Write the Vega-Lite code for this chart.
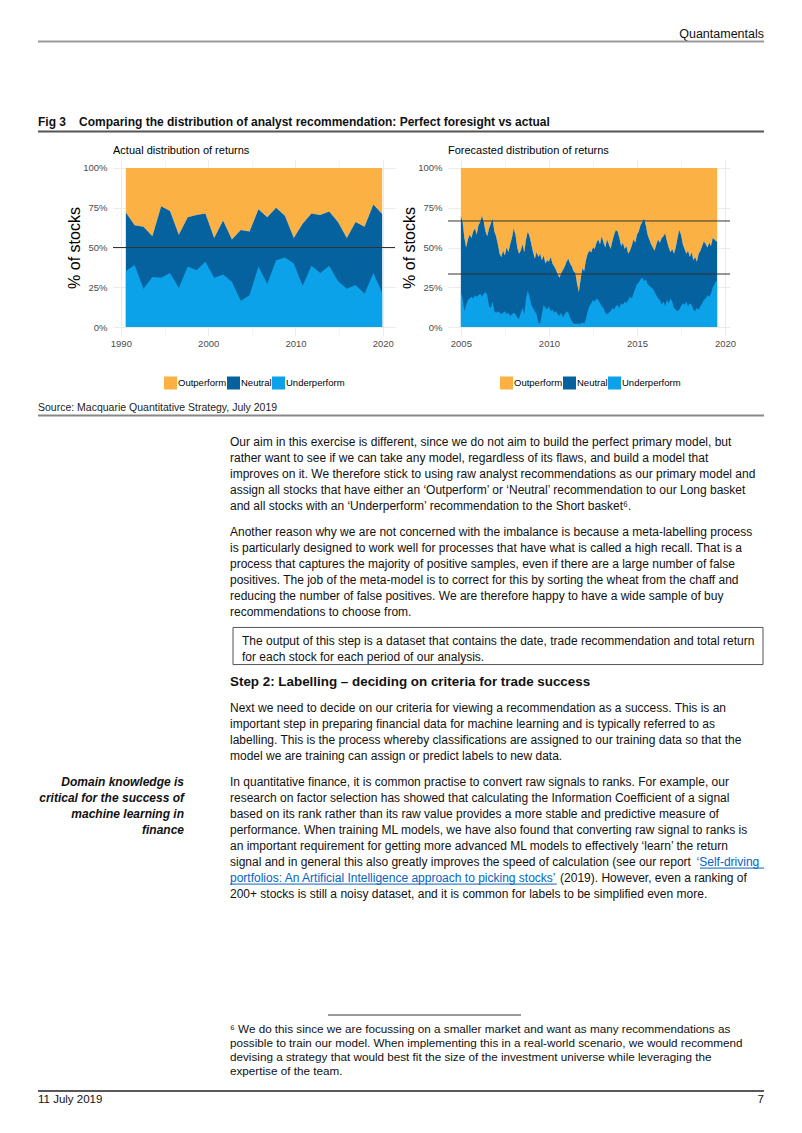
{
  "$schema": "https://vega.github.io/schema/vega-lite/v6.json",
  "padding": {"left": 37, "right": 39, "top": 0, "bottom": 0},
  "background": "white",
  "spacing": 0,
  "config": {
    "view": {"stroke": null},
    "font": "Liberation Sans",
    "text": {"font": "Liberation Sans"},
    "title": {"font": "Liberation Sans"},
    "axis": {"labelFont": "Liberation Sans", "titleFont": "Liberation Sans"},
    "legend": {"labelFont": "Liberation Sans"}
  },
  "datasets": {
    "top": [
      {"item": "header", "text": "Quantamentals"},
      {"item": "fignum", "text": "Fig 3"},
      {"item": "figtitle", "text": "Comparing the distribution of analyst recommendation: Perfect foresight vs actual"}
    ],
    "actual": [
      {"t": 1990.57, "n": 0.72, "u": 0.35}, {"t": 1991.58, "n": 0.64, "u": 0.39}, {"t": 1992.59, "n": 0.63, "u": 0.24},
      {"t": 1993.61, "n": 0.57, "u": 0.315}, {"t": 1994.62, "n": 0.76, "u": 0.31}, {"t": 1995.63, "n": 0.73, "u": 0.34},
      {"t": 1996.64, "n": 0.58, "u": 0.245}, {"t": 1997.66, "n": 0.69, "u": 0.38}, {"t": 1998.67, "n": 0.705, "u": 0.357},
      {"t": 1999.68, "n": 0.714, "u": 0.41}, {"t": 2000.69, "n": 0.56, "u": 0.31}, {"t": 2001.71, "n": 0.67, "u": 0.33},
      {"t": 2002.72, "n": 0.55, "u": 0.285}, {"t": 2003.73, "n": 0.61, "u": 0.165}, {"t": 2004.74, "n": 0.60, "u": 0.20},
      {"t": 2005.76, "n": 0.74, "u": 0.38}, {"t": 2006.77, "n": 0.69, "u": 0.27}, {"t": 2007.78, "n": 0.75, "u": 0.42},
      {"t": 2008.79, "n": 0.70, "u": 0.437}, {"t": 2009.81, "n": 0.56, "u": 0.40}, {"t": 2010.82, "n": 0.65, "u": 0.26},
      {"t": 2011.83, "n": 0.714, "u": 0.385}, {"t": 2012.84, "n": 0.705, "u": 0.34}, {"t": 2013.86, "n": 0.727, "u": 0.385},
      {"t": 2014.87, "n": 0.66, "u": 0.29}, {"t": 2015.88, "n": 0.56, "u": 0.24}, {"t": 2016.89, "n": 0.66, "u": 0.265},
      {"t": 2017.91, "n": 0.63, "u": 0.21}, {"t": 2018.92, "n": 0.77, "u": 0.34}, {"t": 2019.93, "n": 0.71, "u": 0.215}
    ],
    "forecast": [
      {"t": 2005.0, "n": 0.70, "u": 0.22}, {"t": 2005.1, "n": 0.66, "u": 0.18}, {"t": 2005.2, "n": 0.56, "u": 0.10}, {"t": 2005.3, "n": 0.50, "u": 0.14}, {"t": 2005.4, "n": 0.55, "u": 0.17},
      {"t": 2005.5, "n": 0.58, "u": 0.18}, {"t": 2005.6, "n": 0.56, "u": 0.19}, {"t": 2005.7, "n": 0.60, "u": 0.18}, {"t": 2005.8, "n": 0.62, "u": 0.20}, {"t": 2005.9, "n": 0.58, "u": 0.19},
      {"t": 2006.0, "n": 0.64, "u": 0.20}, {"t": 2006.1, "n": 0.66, "u": 0.21}, {"t": 2006.2, "n": 0.70, "u": 0.19}, {"t": 2006.3, "n": 0.66, "u": 0.21}, {"t": 2006.4, "n": 0.60, "u": 0.22},
      {"t": 2006.5, "n": 0.57, "u": 0.20}, {"t": 2006.6, "n": 0.62, "u": 0.13}, {"t": 2006.7, "n": 0.65, "u": 0.12}, {"t": 2006.8, "n": 0.68, "u": 0.16}, {"t": 2006.9, "n": 0.60, "u": 0.10},
      {"t": 2007.0, "n": 0.57, "u": 0.09}, {"t": 2007.1, "n": 0.52, "u": 0.10}, {"t": 2007.2, "n": 0.46, "u": 0.09}, {"t": 2007.3, "n": 0.44, "u": 0.08}, {"t": 2007.4, "n": 0.48, "u": 0.09},
      {"t": 2007.5, "n": 0.45, "u": 0.10}, {"t": 2007.6, "n": 0.50, "u": 0.08}, {"t": 2007.7, "n": 0.47, "u": 0.09}, {"t": 2007.8, "n": 0.52, "u": 0.07}, {"t": 2007.9, "n": 0.56, "u": 0.08},
      {"t": 2008.0, "n": 0.62, "u": 0.09}, {"t": 2008.1, "n": 0.58, "u": 0.08}, {"t": 2008.2, "n": 0.50, "u": 0.06}, {"t": 2008.3, "n": 0.46, "u": 0.05}, {"t": 2008.4, "n": 0.48, "u": 0.09},
      {"t": 2008.5, "n": 0.52, "u": 0.12}, {"t": 2008.6, "n": 0.47, "u": 0.08}, {"t": 2008.7, "n": 0.55, "u": 0.18}, {"t": 2008.8, "n": 0.60, "u": 0.23}, {"t": 2008.9, "n": 0.57, "u": 0.19},
      {"t": 2009.0, "n": 0.52, "u": 0.14}, {"t": 2009.1, "n": 0.47, "u": 0.12}, {"t": 2009.2, "n": 0.43, "u": 0.10}, {"t": 2009.3, "n": 0.47, "u": 0.08}, {"t": 2009.4, "n": 0.44, "u": 0.03},
      {"t": 2009.5, "n": 0.46, "u": 0.02}, {"t": 2009.6, "n": 0.42, "u": 0.08}, {"t": 2009.7, "n": 0.45, "u": 0.14}, {"t": 2009.8, "n": 0.40, "u": 0.12}, {"t": 2009.9, "n": 0.42, "u": 0.11},
      {"t": 2010.0, "n": 0.41, "u": 0.13}, {"t": 2010.1, "n": 0.44, "u": 0.10}, {"t": 2010.2, "n": 0.40, "u": 0.11}, {"t": 2010.3, "n": 0.38, "u": 0.09}, {"t": 2010.4, "n": 0.36, "u": 0.10},
      {"t": 2010.5, "n": 0.33, "u": 0.08}, {"t": 2010.6, "n": 0.31, "u": 0.07}, {"t": 2010.7, "n": 0.34, "u": 0.09}, {"t": 2010.8, "n": 0.36, "u": 0.06}, {"t": 2010.9, "n": 0.38, "u": 0.08},
      {"t": 2011.0, "n": 0.41, "u": 0.10}, {"t": 2011.1, "n": 0.43, "u": 0.09}, {"t": 2011.2, "n": 0.40, "u": 0.06}, {"t": 2011.3, "n": 0.38, "u": 0.04}, {"t": 2011.4, "n": 0.35, "u": 0.02},
      {"t": 2011.5, "n": 0.34, "u": 0.02}, {"t": 2011.6, "n": 0.27, "u": 0.02}, {"t": 2011.7, "n": 0.22, "u": 0.02}, {"t": 2011.8, "n": 0.30, "u": 0.02}, {"t": 2011.9, "n": 0.37, "u": 0.03},
      {"t": 2012.0, "n": 0.35, "u": 0.02}, {"t": 2012.1, "n": 0.42, "u": 0.05}, {"t": 2012.2, "n": 0.46, "u": 0.10}, {"t": 2012.3, "n": 0.48, "u": 0.13}, {"t": 2012.4, "n": 0.47, "u": 0.15},
      {"t": 2012.5, "n": 0.50, "u": 0.17}, {"t": 2012.6, "n": 0.49, "u": 0.16}, {"t": 2012.7, "n": 0.53, "u": 0.18}, {"t": 2012.8, "n": 0.55, "u": 0.17}, {"t": 2012.9, "n": 0.52, "u": 0.15},
      {"t": 2013.0, "n": 0.57, "u": 0.13}, {"t": 2013.1, "n": 0.53, "u": 0.12}, {"t": 2013.2, "n": 0.50, "u": 0.09}, {"t": 2013.3, "n": 0.55, "u": 0.08}, {"t": 2013.4, "n": 0.52, "u": 0.09},
      {"t": 2013.5, "n": 0.49, "u": 0.10}, {"t": 2013.6, "n": 0.54, "u": 0.12}, {"t": 2013.7, "n": 0.58, "u": 0.11}, {"t": 2013.8, "n": 0.61, "u": 0.13}, {"t": 2013.9, "n": 0.60, "u": 0.14},
      {"t": 2014.0, "n": 0.56, "u": 0.12}, {"t": 2014.1, "n": 0.51, "u": 0.15}, {"t": 2014.2, "n": 0.53, "u": 0.14}, {"t": 2014.3, "n": 0.49, "u": 0.16}, {"t": 2014.4, "n": 0.51, "u": 0.15},
      {"t": 2014.5, "n": 0.46, "u": 0.17}, {"t": 2014.6, "n": 0.48, "u": 0.19}, {"t": 2014.7, "n": 0.51, "u": 0.18}, {"t": 2014.8, "n": 0.55, "u": 0.21}, {"t": 2014.9, "n": 0.53, "u": 0.24},
      {"t": 2015.0, "n": 0.58, "u": 0.27}, {"t": 2015.1, "n": 0.60, "u": 0.28}, {"t": 2015.2, "n": 0.64, "u": 0.30}, {"t": 2015.3, "n": 0.66, "u": 0.31}, {"t": 2015.4, "n": 0.68, "u": 0.29},
      {"t": 2015.5, "n": 0.64, "u": 0.30}, {"t": 2015.6, "n": 0.58, "u": 0.27}, {"t": 2015.7, "n": 0.55, "u": 0.26}, {"t": 2015.8, "n": 0.52, "u": 0.25}, {"t": 2015.9, "n": 0.50, "u": 0.24},
      {"t": 2016.0, "n": 0.48, "u": 0.22}, {"t": 2016.1, "n": 0.52, "u": 0.20}, {"t": 2016.2, "n": 0.55, "u": 0.18}, {"t": 2016.3, "n": 0.53, "u": 0.17}, {"t": 2016.4, "n": 0.56, "u": 0.14},
      {"t": 2016.5, "n": 0.57, "u": 0.16}, {"t": 2016.6, "n": 0.59, "u": 0.13}, {"t": 2016.7, "n": 0.54, "u": 0.17}, {"t": 2016.8, "n": 0.50, "u": 0.15}, {"t": 2016.9, "n": 0.47, "u": 0.18},
      {"t": 2017.0, "n": 0.49, "u": 0.16}, {"t": 2017.1, "n": 0.46, "u": 0.12}, {"t": 2017.2, "n": 0.50, "u": 0.11}, {"t": 2017.3, "n": 0.56, "u": 0.10}, {"t": 2017.4, "n": 0.61, "u": 0.11},
      {"t": 2017.5, "n": 0.58, "u": 0.13}, {"t": 2017.6, "n": 0.52, "u": 0.15}, {"t": 2017.7, "n": 0.49, "u": 0.14}, {"t": 2017.8, "n": 0.46, "u": 0.16}, {"t": 2017.9, "n": 0.48, "u": 0.13},
      {"t": 2018.0, "n": 0.44, "u": 0.15}, {"t": 2018.1, "n": 0.47, "u": 0.14}, {"t": 2018.2, "n": 0.42, "u": 0.11}, {"t": 2018.3, "n": 0.44, "u": 0.10}, {"t": 2018.4, "n": 0.41, "u": 0.12},
      {"t": 2018.5, "n": 0.46, "u": 0.11}, {"t": 2018.6, "n": 0.48, "u": 0.13}, {"t": 2018.7, "n": 0.51, "u": 0.15}, {"t": 2018.8, "n": 0.54, "u": 0.17}, {"t": 2018.9, "n": 0.52, "u": 0.18},
      {"t": 2019.0, "n": 0.50, "u": 0.20}, {"t": 2019.1, "n": 0.53, "u": 0.19}, {"t": 2019.2, "n": 0.51, "u": 0.21}, {"t": 2019.3, "n": 0.56, "u": 0.25}, {"t": 2019.4, "n": 0.55, "u": 0.27},
      {"t": 2019.5, "n": 0.54, "u": 0.29}, {"t": 2019.55, "n": 0.54, "u": 0.29}
    ],
    "body": [
      {"block": "source", "line": -2.11, "text": "Source: Macquarie Quantitative Strategy, July 2019"},
      {"block": "p", "line": 0, "text": "Our aim in this exercise is different, since we do not aim to build the perfect primary model, but"},
      {"block": "p", "line": 1, "text": "rather want to see if we can take any model, regardless of its flaws, and build a model that"},
      {"block": "p", "line": 2, "text": "improves on it. We therefore stick to using raw analyst recommendations as our primary model and"},
      {"block": "p", "line": 3, "text": "assign all stocks that have either an ‘Outperform’ or ‘Neutral’ recommendation to our Long basket"},
      {"block": "p", "line": 4, "text": "and all stocks with an ‘Underperform’ recommendation to the Short basket⁶."},
      {"block": "p", "line": 5.62, "text": "Another reason why we are not concerned with the imbalance is because a meta-labelling process"},
      {"block": "p", "line": 6.62, "text": "is particularly designed to work well for processes that have what is called a high recall. That is a"},
      {"block": "p", "line": 7.62, "text": "process that captures the majority of positive samples, even if there are a large number of false"},
      {"block": "p", "line": 8.62, "text": "positives. The job of the meta-model is to correct for this by sorting the wheat from the chaff and"},
      {"block": "p", "line": 9.62, "text": "reducing the number of false positives. We are therefore happy to have a wide sample of buy"},
      {"block": "p", "line": 10.62, "text": "recommendations to choose from."},
      {"block": "box", "line": 12.44, "text": "The output of this step is a dataset that contains the date, trade recommendation and total return"},
      {"block": "box", "line": 13.44, "text": "for each stock for each period of our analysis."},
      {"block": "head", "line": 15.0, "text": "Step 2: Labelling – deciding on criteria for trade success"},
      {"block": "p", "line": 16.63, "text": "Next we need to decide on our criteria for viewing a recommendation as a success. This is an"},
      {"block": "p", "line": 17.63, "text": "important step in preparing financial data for machine learning and is typically referred to as"},
      {"block": "p", "line": 18.63, "text": "labelling.  This is the process whereby classifications are assigned to our training data so that the"},
      {"block": "p", "line": 19.63, "text": "model we are training can assign or predict labels to new data."},
      {"block": "p", "line": 21.25, "text": "In quantitative finance, it is common practise to convert raw signals to ranks. For example, our"},
      {"block": "p", "line": 22.25, "text": "research on factor selection has showed that calculating the Information Coefficient of a signal"},
      {"block": "p", "line": 23.25, "text": "based on its rank rather than its raw value provides a more stable and predictive measure of"},
      {"block": "p", "line": 24.25, "text": "performance. When training ML models, we have also found that converting raw signal to ranks is"},
      {"block": "p", "line": 25.25, "text": "an important requirement for getting more advanced ML models to effectively ‘learn’ the return"},
      {"block": "p", "line": 26.25, "text": "signal and in general this also greatly improves the speed of calculation (see our report"},
      {"block": "link6", "line": 26.25, "text": "‘Self-driving"},
      {"block": "link7", "line": 27.25, "text": "portfolios: An Artificial Intelligence approach to picking stocks’"},
      {"block": "after7", "line": 27.25, "text": "(2019). However, even a ranking of"},
      {"block": "p", "line": 28.25, "text": "200+ stocks is still a noisy dataset, and it is common for labels to be simplified even more."},
      {"block": "side", "line": 21.25, "text": "Domain knowledge is"},
      {"block": "side", "line": 22.25, "text": "critical for the success of"},
      {"block": "side", "line": 23.25, "text": "machine learning in"},
      {"block": "side", "line": 24.25, "text": "finance"},
      {"block": "foot", "line": 36.66, "text": "⁶ We do this since we are focussing on a smaller market and want as many recommendations as"},
      {"block": "foot", "line": 37.54, "text": "possible to train our model. When implementing this in a real-world scenario, we would recommend"},
      {"block": "foot", "line": 38.41, "text": "devising a strategy that would best fit the size of the investment universe while leveraging the"},
      {"block": "foot", "line": 39.29, "text": "expertise of the team."},
      {"block": "date", "line": 41.125, "text": "11 July 2019"},
      {"block": "page", "line": 41.125, "text": "7"}
    ]
  },
  "vconcat": [
    {
      "width": 726,
      "height": 144,
      "data": {"name": "top"},
      "layer": [
        {
          "transform": [{"filter": "datum.item === 'header'"}],
          "mark": {"type": "text", "align": "right", "baseline": "middle", "fontSize": 12.5, "color": "#111"},
          "encoding": {
            "x": {"datum": 726, "type": "quantitative", "scale": {"domain": [0, 726], "nice": false, "zero": false}, "axis": null},
            "y": {"datum": 33.5, "type": "quantitative", "scale": {"domain": [0, 144], "reverse": true, "nice": false, "zero": false}, "axis": null},
            "text": {"field": "text"}
          }
        },
        {
          "transform": [{"filter": "datum.item === 'fignum'"}],
          "mark": {"type": "text", "align": "left", "baseline": "middle", "fontSize": 12, "fontWeight": "bold", "color": "#111"},
          "encoding": {
            "x": {"datum": 0, "type": "quantitative", "axis": null},
            "y": {"datum": 122, "type": "quantitative", "axis": null},
            "text": {"field": "text"}
          }
        },
        {
          "transform": [{"filter": "datum.item === 'figtitle'"}],
          "mark": {"type": "text", "align": "left", "baseline": "middle", "fontSize": 12, "fontWeight": "bold", "color": "#111"},
          "encoding": {
            "x": {"datum": 41, "type": "quantitative", "axis": null},
            "y": {"datum": 122, "type": "quantitative", "axis": null},
            "text": {"field": "text"}
          }
        },
        {
          "data": {"values": [{}]},
          "mark": {"type": "rule", "color": "#999999", "strokeWidth": 2},
          "encoding": {"y": {"datum": 41.5, "type": "quantitative", "axis": null}}
        },
        {
          "data": {"values": [{}]},
          "mark": {"type": "rule", "color": "#555555", "strokeWidth": 2},
          "encoding": {"y": {"datum": 131.5, "type": "quantitative", "axis": null}}
        }
      ]
    },
    {
      "spacing": 5,
      "resolve": {"scale": {"color": "independent"}, "legend": {"color": "independent"}},
      "hconcat": [
        {
          "width": 23,
          "height": 10,
          "data": {"values": [{}]},
          "mark": {"type": "text"},
          "encoding": {"text": {"value": ""}}
        },
        {
          "width": 282,
          "height": 175,
          "title": {"text": "Actual distribution of returns", "anchor": "start", "frame": "group", "fontSize": 11, "fontWeight": "normal", "color": "#000", "offset": -6.5, "baseline": "bottom"},
          "data": {"name": "actual"},
          "layer": [
            {
              "mark": {"type": "area", "opacity": 1},
              "encoding": {
                "x": {"field": "t", "type": "quantitative", "scale": {"domain": [1989.1, 2021.4], "nice": false, "zero": false},
                  "axis": {"values": [1990, 1995, 2000, 2005, 2010, 2015, 2020], "format": "d", "labelExpr": "datum.value % 10 === 0 ? datum.label : ''", "grid": true, "gridColor": "#EBEBEB", "gridWidth": {"condition": {"test": "datum.value % 10 !== 0", "value": 0.5}, "value": 1}, "domain": false, "ticks": false, "labelFontSize": 9.5, "labelColor": "#4D4D4D", "labelPadding": 3.5, "title": null}},
                "y": {"field": "n", "type": "quantitative", "scale": {"domain": [-0.05, 1.05], "nice": false, "zero": false},
                  "axis": {"values": [0, 0.125, 0.25, 0.375, 0.5, 0.625, 0.75, 0.875, 1], "format": ".0%", "labelExpr": "(datum.value * 4) % 1 === 0 ? datum.label : ''", "grid": true, "gridColor": "#EBEBEB", "gridWidth": {"condition": {"test": "(datum.value * 4) % 1 !== 0", "value": 0.5}, "value": 1}, "domain": false, "ticks": false, "labelFontSize": 9.5, "labelColor": "#4D4D4D", "labelPadding": 6, "title": "% of stocks", "titleFontSize": 16, "titleFontWeight": "normal", "titleColor": "#000", "titlePadding": 0}},
                "y2": {"datum": 1},
                "color": {"datum": "Outperform", "type": "nominal",
                  "scale": {"domain": ["Outperform", "Neutral", "Underperform"], "range": ["#FBB143", "#05629F", "#0BA2EA"]},
                  "legend": {"orient": "none", "legendX": 51, "legendY": 216.5, "direction": "horizontal", "title": null, "symbolType": "square", "symbolSize": 169, "symbolStrokeWidth": 0, "symbolOpacity": 1, "labelFontSize": 9.5, "labelColor": "#000", "labelOffset": 1, "columnPadding": 0, "padding": 0}}
              }
            },
            {
              "mark": {"type": "area", "opacity": 1},
              "encoding": {
                "x": {"field": "t", "type": "quantitative"},
                "y": {"field": "n", "type": "quantitative"},
                "y2": {"datum": 0},
                "color": {"datum": "Neutral", "type": "nominal"}
              }
            },
            {
              "mark": {"type": "area", "opacity": 1},
              "encoding": {
                "x": {"field": "t", "type": "quantitative"},
                "y": {"field": "u", "type": "quantitative"},
                "y2": {"datum": 0},
                "color": {"datum": "Underperform", "type": "nominal"}
              }
            },
            {
              "data": {"values": [{}]},
              "mark": {"type": "rule", "color": "#333333", "strokeWidth": 1},
              "encoding": {"y": {"datum": 0.5, "type": "quantitative"}}
            }
          ]
        },
        {
          "width": 282,
          "height": 175,
          "title": {"text": "Forecasted distribution of returns", "anchor": "start", "frame": "group", "fontSize": 11, "fontWeight": "normal", "color": "#000", "offset": -6.5, "baseline": "bottom"},
          "data": {"name": "forecast"},
          "layer": [
            {
              "mark": {"type": "area", "opacity": 1},
              "encoding": {
                "x": {"field": "t", "type": "quantitative", "scale": {"domain": [2004.27, 2020.28], "nice": false, "zero": false},
                  "axis": {"values": [2005, 2007.5, 2010, 2012.5, 2015, 2017.5, 2020], "format": "d", "labelExpr": "datum.value % 5 === 0 ? datum.label : ''", "grid": true, "gridColor": "#EBEBEB", "gridWidth": {"condition": {"test": "datum.value % 5 !== 0", "value": 0.5}, "value": 1}, "domain": false, "ticks": false, "labelFontSize": 9.5, "labelColor": "#4D4D4D", "labelPadding": 3.5, "title": null}},
                "y": {"field": "n", "type": "quantitative", "scale": {"domain": [-0.05, 1.05], "nice": false, "zero": false},
                  "axis": {"values": [0, 0.125, 0.25, 0.375, 0.5, 0.625, 0.75, 0.875, 1], "format": ".0%", "labelExpr": "(datum.value * 4) % 1 === 0 ? datum.label : ''", "grid": true, "gridColor": "#EBEBEB", "gridWidth": {"condition": {"test": "(datum.value * 4) % 1 !== 0", "value": 0.5}, "value": 1}, "domain": false, "ticks": false, "labelFontSize": 9.5, "labelColor": "#4D4D4D", "labelPadding": 6, "title": "% of stocks", "titleFontSize": 16, "titleFontWeight": "normal", "titleColor": "#000", "titlePadding": 0}},
                "y2": {"datum": 1},
                "color": {"datum": "Outperform", "type": "nominal",
                  "scale": {"domain": ["Outperform", "Neutral", "Underperform"], "range": ["#FBB143", "#05629F", "#0BA2EA"]},
                  "legend": {"orient": "none", "legendX": 52, "legendY": 216.5, "direction": "horizontal", "title": null, "symbolType": "square", "symbolSize": 169, "symbolStrokeWidth": 0, "symbolOpacity": 1, "labelFontSize": 9.5, "labelColor": "#000", "labelOffset": 1, "columnPadding": 0, "padding": 0}}
              }
            },
            {
              "mark": {"type": "area", "opacity": 1},
              "encoding": {
                "x": {"field": "t", "type": "quantitative"},
                "y": {"field": "n", "type": "quantitative"},
                "y2": {"datum": 0},
                "color": {"datum": "Neutral", "type": "nominal"}
              }
            },
            {
              "mark": {"type": "area", "opacity": 1},
              "encoding": {
                "x": {"field": "t", "type": "quantitative"},
                "y": {"field": "u", "type": "quantitative"},
                "y2": {"datum": 0},
                "color": {"datum": "Underperform", "type": "nominal"}
              }
            },
            {
              "data": {"values": [{}]},
              "mark": {"type": "rule", "color": "#333333", "strokeWidth": 1},
              "encoding": {"y": {"datum": 0.6667, "type": "quantitative"}}
            },
            {
              "data": {"values": [{}]},
              "mark": {"type": "rule", "color": "#333333", "strokeWidth": 1},
              "encoding": {"y": {"datum": 0.3333, "type": "quantitative"}}
            }
          ]
        }
      ]
    },
    {
      "width": 726,
      "height": 744,
      "data": {"name": "body"},
      "layer": [
        {
          "transform": [{"filter": "datum.block === 'source'"}],
          "mark": {"type": "text", "align": "left", "baseline": "middle", "fontSize": 10.5, "color": "#222"},
          "encoding": {
            "x": {"datum": 0, "type": "quantitative", "scale": {"domain": [0, 726], "nice": false, "zero": false}, "axis": null},
            "y": {"field": "line", "type": "quantitative", "scale": {"domain": [-3.25, 43.25], "reverse": true, "nice": false, "zero": false}, "axis": null},
            "text": {"field": "text"}
          }
        },
        {
          "transform": [{"filter": "datum.block === 'p'"}],
          "mark": {"type": "text", "align": "left", "baseline": "middle", "fontSize": 12, "color": "#111"},
          "encoding": {
            "x": {"datum": 192, "type": "quantitative", "axis": null},
            "y": {"field": "line", "type": "quantitative", "axis": null},
            "text": {"field": "text"}
          }
        },
        {
          "transform": [{"filter": "datum.block === 'box'"}],
          "mark": {"type": "text", "align": "left", "baseline": "middle", "fontSize": 12, "color": "#111"},
          "encoding": {
            "x": {"datum": 204, "type": "quantitative", "axis": null},
            "y": {"field": "line", "type": "quantitative", "axis": null},
            "text": {"field": "text"}
          }
        },
        {
          "transform": [{"filter": "datum.block === 'head'"}],
          "mark": {"type": "text", "align": "left", "baseline": "middle", "fontSize": 13.4, "fontWeight": "bold", "color": "#111"},
          "encoding": {
            "x": {"datum": 192, "type": "quantitative", "axis": null},
            "y": {"field": "line", "type": "quantitative", "axis": null},
            "text": {"field": "text"}
          }
        },
        {
          "transform": [{"filter": "datum.block === 'link6'"}],
          "mark": {"type": "text", "align": "left", "baseline": "middle", "fontSize": 12, "color": "#0563C1"},
          "encoding": {
            "x": {"datum": 658.6, "type": "quantitative", "axis": null},
            "y": {"field": "line", "type": "quantitative", "axis": null},
            "text": {"field": "text"}
          }
        },
        {
          "transform": [{"filter": "datum.block === 'link7'"}],
          "mark": {"type": "text", "align": "left", "baseline": "middle", "fontSize": 12, "color": "#0563C1"},
          "encoding": {
            "x": {"datum": 192, "type": "quantitative", "axis": null},
            "y": {"field": "line", "type": "quantitative", "axis": null},
            "text": {"field": "text"}
          }
        },
        {
          "transform": [{"filter": "datum.block === 'after7'"}],
          "mark": {"type": "text", "align": "left", "baseline": "middle", "fontSize": 12, "color": "#111"},
          "encoding": {
            "x": {"datum": 522.1, "type": "quantitative", "axis": null},
            "y": {"field": "line", "type": "quantitative", "axis": null},
            "text": {"field": "text"}
          }
        },
        {
          "transform": [{"filter": "datum.block === 'side'"}],
          "mark": {"type": "text", "align": "right", "baseline": "middle", "fontSize": 12, "fontWeight": "bold", "fontStyle": "italic", "color": "#111"},
          "encoding": {
            "x": {"datum": 146, "type": "quantitative", "axis": null},
            "y": {"field": "line", "type": "quantitative", "axis": null},
            "text": {"field": "text"}
          }
        },
        {
          "transform": [{"filter": "datum.block === 'foot'"}],
          "mark": {"type": "text", "align": "left", "baseline": "middle", "fontSize": 11.7, "color": "#111"},
          "encoding": {
            "x": {"datum": 192, "type": "quantitative", "axis": null},
            "y": {"field": "line", "type": "quantitative", "axis": null},
            "text": {"field": "text"}
          }
        },
        {
          "transform": [{"filter": "datum.block === 'date'"}],
          "mark": {"type": "text", "align": "left", "baseline": "middle", "fontSize": 11.5, "color": "#111"},
          "encoding": {
            "x": {"datum": 0, "type": "quantitative", "axis": null},
            "y": {"field": "line", "type": "quantitative", "axis": null},
            "text": {"field": "text"}
          }
        },
        {
          "transform": [{"filter": "datum.block === 'page'"}],
          "mark": {"type": "text", "align": "right", "baseline": "middle", "fontSize": 11.5, "color": "#111"},
          "encoding": {
            "x": {"datum": 726, "type": "quantitative", "axis": null},
            "y": {"field": "line", "type": "quantitative", "axis": null},
            "text": {"field": "text"}
          }
        },
        {
          "data": {"values": [{}]},
          "mark": {"type": "rule", "color": "#888888", "strokeWidth": 2},
          "encoding": {"y": {"datum": -1.66, "type": "quantitative", "axis": null}}
        },
        {
          "data": {"values": [{}]},
          "mark": {"type": "rule", "color": "#222222", "strokeWidth": 1.5},
          "encoding": {"y": {"datum": 40.56, "type": "quantitative", "axis": null}}
        },
        {
          "data": {"values": [{}]},
          "mark": {"type": "rule", "color": "#777777", "strokeWidth": 1.5},
          "encoding": {
            "x": {"datum": 290, "type": "quantitative", "axis": null},
            "x2": {"datum": 483},
            "y": {"datum": 35.81, "type": "quantitative", "axis": null}
          }
        },
        {
          "data": {"values": [{}]},
          "mark": {"type": "rule", "color": "#0563C1", "strokeWidth": 1},
          "encoding": {
            "x": {"datum": 662, "type": "quantitative", "axis": null},
            "x2": {"datum": 726},
            "y": {"datum": 26.63, "type": "quantitative", "axis": null}
          }
        },
        {
          "data": {"values": [{}]},
          "mark": {"type": "rule", "color": "#0563C1", "strokeWidth": 1},
          "encoding": {
            "x": {"datum": 192, "type": "quantitative", "axis": null},
            "x2": {"datum": 518.8},
            "y": {"datum": 27.63, "type": "quantitative", "axis": null}
          }
        },
        {
          "data": {"values": [{}]},
          "mark": {"type": "rect", "filled": false, "color": "#555555", "strokeWidth": 1},
          "encoding": {
            "x": {"datum": 195, "type": "quantitative", "axis": null},
            "x2": {"datum": 725},
            "y": {"datum": 11.59, "type": "quantitative", "axis": null},
            "y2": {"datum": 13.91}
          }
        }
      ]
    }
  ]
}
